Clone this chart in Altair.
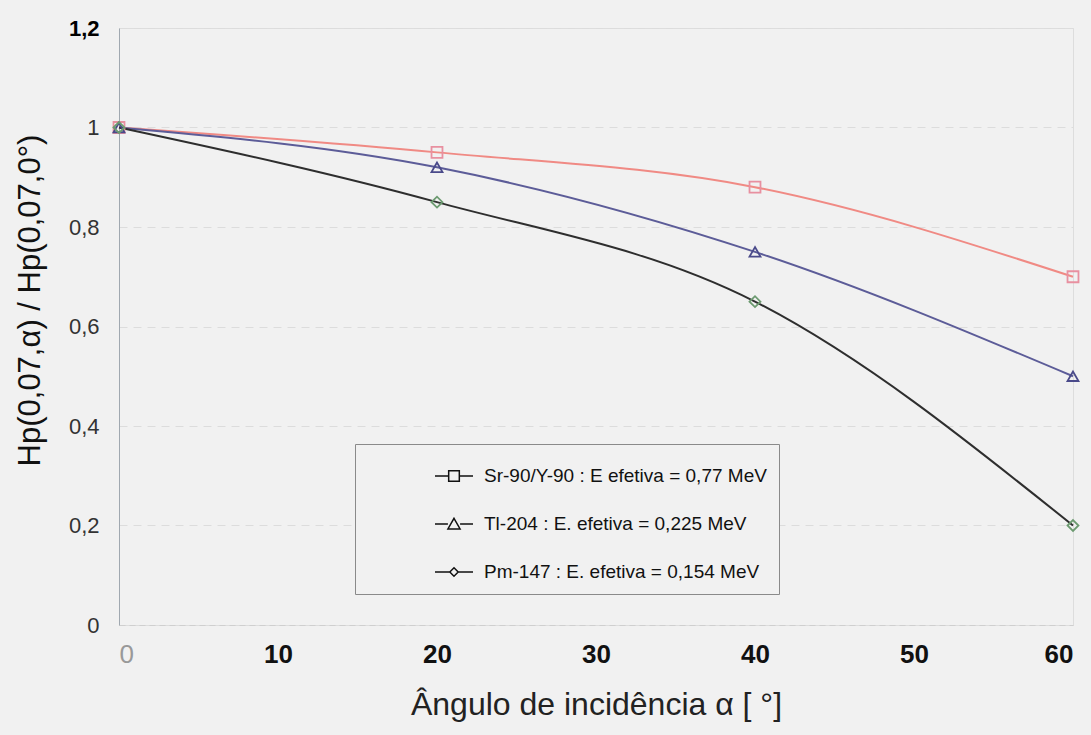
import altair as alt
import pandas as pd

angles = [0, 20, 40, 60]
sr = [1.0, 0.95, 0.88, 0.70]
tl = [1.0, 0.92, 0.75, 0.50]
pm = [1.0, 0.85, 0.65, 0.20]
names = [
    "Sr-90/Y-90 : E efetiva = 0,77 MeV",
    "Tl-204 : E. efetiva = 0,225 MeV",
    "Pm-147 : E. efetiva = 0,154 MeV",
]
line_colors = ["#f08a84", "#5c5c98", "#2e2e2e"]
point_colors = ["#e890a0", "#4a4a8a", "#6c9a70"]
shapes = ["square", "triangle-up", "diamond"]
# legend symbols: short line with marker in the middle
legend_shapes = [
    "M-1,0H-0.28M0.28,0H1M-0.28,-0.28H0.28V0.28H-0.28Z",
    "M-1,0H-0.32M0.32,0H1M0,-0.3L0.32,0.26H-0.32Z",
    "M-1,0H-0.22M0.22,0H1M0,-0.22L0.22,0L0,0.22L-0.22,0Z",
]

rows = []
for name, vals in zip(names, [sr, tl, pm]):
    for a, v in zip(angles, vals):
        rows.append({"angle": a, "value": v, "serie": name, "leg": name, "pt": name})
df = pd.DataFrame(rows)

fmt = "replace(format(datum.value, '.1~f'), '.', ',')"
x = alt.X("angle:Q", scale=alt.Scale(domain=[0, 60], nice=False),
          axis=alt.Axis(values=[0, 10, 20, 30, 40, 50, 60], labelExpr=fmt,
                        title="Ângulo de incidência α [ °]", grid=False,
                        domain=True, domainColor="#cfcfcf", domainDash=[6, 4],
                        ticks=False, labelPadding=16, labelFontSize=26,
                        labelFont="Liberation Sans Narrow, Liberation Sans",
                        labelFontWeight={"condition": {"test": "datum.value == 0", "value": "normal"}, "value": "bold"},
                        labelColor={"condition": {"test": "datum.value == 0", "value": "#999999"}, "value": "#111111"},
                        titleFontSize=32, titleFontWeight="normal", titlePadding=22,
                        titleColor="#222"))
y = alt.Y("value:Q", scale=alt.Scale(domain=[0, 1.2], nice=False),
          axis=alt.Axis(values=[0, 0.2, 0.4, 0.6, 0.8, 1.0, 1.2], labelExpr=fmt,
                        title="Hp(0,07,α) / Hp(0,07,0°)", grid=True,
                        gridColor="#dcdcdc", gridDash=[8, 6],
                        domain=True, domainColor="#a0a8b0", ticks=False,
                        labelPadding=20, labelFontSize=22,
                        labelColor={"condition": {"test": "datum.value > 1.1", "value": "#000000"}, "value": "#333333"},
                        labelFontWeight={"condition": {"test": "datum.value > 1.1", "value": "bold"}, "value": "normal"},
                        titleFontSize=31, titleFontWeight="normal", titlePadding=22,
                        titleY=272, titleColor="#111"))

lines = alt.Chart(df).mark_line(interpolate="monotone", strokeWidth=2).encode(
    x=x, y=y,
    color=alt.Color("serie:N", scale=alt.Scale(domain=names, range=line_colors), legend=None))

points = alt.Chart(df).mark_point(filled=False, size=120, strokeWidth=1.8, opacity=1).encode(
    x=x, y=y,
    stroke=alt.Stroke("pt:N", scale=alt.Scale(domain=names, range=point_colors), legend=None),
    shape=alt.Shape("pt:N", scale=alt.Scale(domain=names, range=shapes), legend=None),
)

legend_layer = alt.Chart(df).mark_point(filled=False, opacity=0, size=1444).encode(
    x=x, y=y,
    shape=alt.Shape("leg:N", scale=alt.Scale(domain=names, range=legend_shapes),
                    legend=alt.Legend(orient="none", legendX=236, legendY=416,
                                      title=None, labelFontSize=19, labelColor="#111",
                                      symbolStrokeColor="#111", symbolFillColor="transparent",
                                      symbolOpacity=1, symbolSize=1444, symbolStrokeWidth=1.5,
                                      symbolOffset=67, labelOffset=10,
                                      rowPadding=18, padding=12,
                                      strokeColor="#8a8a8a", fillColor="#f1f1f1",
                                      labelLimit=500)),
)

chart = alt.layer(lines, points, legend_layer).resolve_scale(
    shape="independent", stroke="independent", color="independent"
).resolve_legend(shape="independent").properties(
    width=954, height=597,
    background="#f1f1f1",
    padding={"left": 119, "top": 28, "right": 18, "bottom": 110},
    autosize=alt.AutoSizeParams(type="none"),
).configure_view(stroke=None).configure(font="Liberation Sans")

chart.save("out.html", embed_options={"renderer": "svg", "actions": False})
